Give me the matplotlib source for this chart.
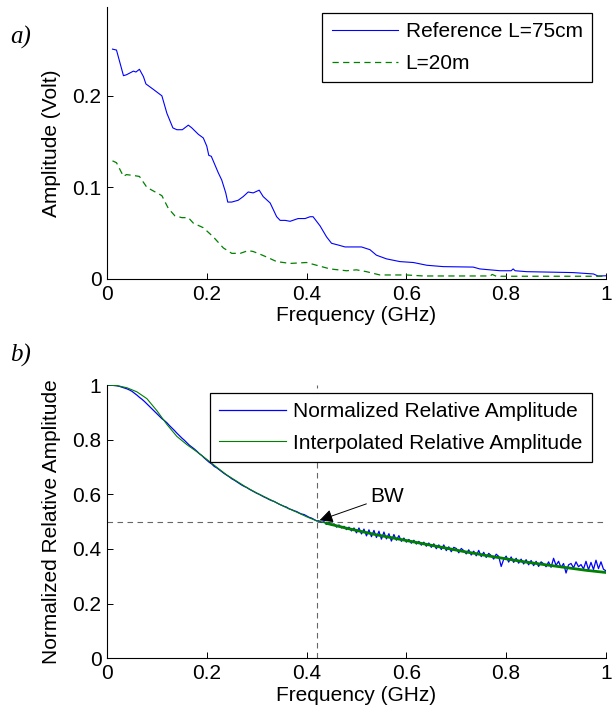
import numpy as np
import matplotlib
matplotlib.use('Agg')
import matplotlib.pyplot as plt

plt.rcParams['font.family'] = ['Liberation Sans', 'DejaVu Sans']
plt.rcParams['font.size'] = 15

# ---- a) 振幅 (Volt)
f_ref = [0.011, 0.019, 0.033, 0.039, 0.053, 0.058, 0.065, 0.073, 0.078, 0.093, 0.110,
         0.120, 0.132, 0.140, 0.151, 0.163, 0.170, 0.183, 0.193, 0.200, 0.204, 0.209, 0.223,
         0.230, 0.238, 0.242, 0.250, 0.263, 0.273, 0.283, 0.293, 0.305, 0.313, 0.327, 0.340,
         0.347, 0.357, 0.367, 0.383, 0.397, 0.407, 0.413, 0.427, 0.440, 0.450, 0.464, 0.477,
         0.510, 0.527, 0.540, 0.560, 0.587, 0.614, 0.641, 0.674, 0.734, 0.747, 0.788, 0.810,
         0.814, 0.818, 0.841, 0.934, 0.975, 0.984, 1.0]
amp_ref = [0.251, 0.250, 0.222, 0.223, 0.227, 0.226, 0.229, 0.221, 0.213, 0.207, 0.200,
           0.181, 0.165, 0.163, 0.163, 0.168, 0.165, 0.158, 0.154, 0.145, 0.135, 0.134, 0.116,
           0.108, 0.094, 0.084, 0.084, 0.086, 0.090, 0.095, 0.094, 0.097, 0.090, 0.083, 0.068,
           0.064, 0.064, 0.063, 0.066, 0.066, 0.068, 0.068, 0.058, 0.046, 0.039, 0.037, 0.035,
           0.035, 0.032, 0.026, 0.022, 0.019, 0.018, 0.015, 0.0135, 0.013, 0.011, 0.009, 0.009,
           0.011, 0.009, 0.008, 0.007, 0.0055, 0.0033, 0.0035]

f_20m = [0.011, 0.019, 0.033, 0.039, 0.053, 0.065, 0.080, 0.100, 0.110, 0.123, 0.136,
         0.150, 0.163, 0.173, 0.193, 0.213, 0.233, 0.250, 0.267, 0.283, 0.293, 0.307, 0.320,
         0.340, 0.367, 0.400, 0.420, 0.447, 0.480, 0.500, 0.520, 0.547, 0.600, 0.634, 0.768,
         0.772, 0.780, 1.0]
amp_20m = [0.129, 0.127, 0.112, 0.114, 0.113, 0.112, 0.100, 0.094, 0.091, 0.077, 0.069,
           0.067, 0.067, 0.061, 0.056, 0.046, 0.034, 0.028, 0.028, 0.031, 0.030, 0.027, 0.024,
           0.019, 0.017, 0.018, 0.015, 0.011, 0.009, 0.010, 0.008, 0.0044, 0.0044, 0.0033, 0.0033,
           0.005, 0.003, 0.003]

# ---- b) 归一化相对振幅, 步长 0.005
f_norm = np.linspace(0, 1, 201)
# 0 ~ 0.42
amp_norm_low = [
    1.000, 1.000, 0.999, 0.998, 0.997, 0.995, 0.992, 0.989, 0.986, 0.982,
    0.977, 0.970, 0.963, 0.955, 0.948, 0.940, 0.931, 0.922, 0.913, 0.904,
    0.895, 0.886, 0.877, 0.870, 0.862, 0.852, 0.843, 0.834, 0.824, 0.815,
    0.806, 0.798, 0.789, 0.780, 0.773, 0.766, 0.758, 0.749, 0.742, 0.733,
    0.725, 0.717, 0.711, 0.702, 0.697, 0.690, 0.683, 0.676, 0.670, 0.664,
    0.657, 0.652, 0.646, 0.640, 0.634, 0.629, 0.625, 0.619, 0.614, 0.609,
    0.604, 0.600, 0.595, 0.590, 0.586, 0.581, 0.577, 0.574, 0.569, 0.564,
    0.560, 0.556, 0.553, 0.547, 0.544, 0.540, 0.537, 0.532, 0.528, 0.526,
    0.521, 0.516, 0.513, 0.508, 0.503]
# 0.425 ~ 1.0
amp_norm_high = [
    0.503, 0.497, 0.500, 0.490, 0.496, 0.487, 0.492, 0.480, 0.488, 0.477,
    0.483, 0.471, 0.480, 0.466, 0.477, 0.459, 0.477, 0.455, 0.473, 0.448,
    0.470, 0.445, 0.468, 0.442, 0.465, 0.436, 0.462, 0.437, 0.456, 0.429,
    0.453, 0.432, 0.449, 0.428, 0.440, 0.425, 0.435, 0.421, 0.432, 0.418,
    0.428, 0.414, 0.425, 0.410, 0.422, 0.406, 0.419, 0.401, 0.415, 0.398,
    0.415, 0.394, 0.408, 0.390, 0.406, 0.402, 0.386, 0.402, 0.394, 0.382,
    0.397, 0.378, 0.392, 0.375, 0.395, 0.372, 0.388, 0.369, 0.384, 0.376,
    0.363, 0.381, 0.373, 0.336, 0.362, 0.374, 0.352, 0.371, 0.351, 0.366,
    0.348, 0.363, 0.345, 0.361, 0.342, 0.358, 0.339, 0.355, 0.336, 0.353,
    0.346, 0.335, 0.353, 0.333, 0.366, 0.340, 0.355, 0.332, 0.347, 0.312,
    0.342, 0.347, 0.331, 0.353, 0.335, 0.343, 0.327, 0.355, 0.324, 0.351,
    0.325, 0.359, 0.328, 0.353, 0.326, 0.320]
amp_norm = amp_norm_low + amp_norm_high

f_interp = [0.0, 0.02, 0.04, 0.06, 0.08, 0.10, 0.12, 0.14, 0.16, 0.18, 0.20, 0.22, 0.24,
            0.26, 0.28, 0.30, 0.32, 0.34, 0.36, 0.38, 0.40, 0.42, 0.44, 0.46, 0.48, 0.50,
            0.52, 0.54, 0.56, 0.58, 0.60, 0.62, 0.64, 0.66, 0.68, 0.70, 0.72, 0.74, 0.76,
            0.78, 0.80, 0.82, 0.84, 0.86, 0.88, 0.90, 0.92, 0.94, 0.96, 0.98, 1.00]
amp_interp = [1.0, 0.998, 0.990, 0.975, 0.950, 0.906, 0.856, 0.812, 0.782, 0.756, 0.728,
              0.699, 0.671, 0.648, 0.625, 0.605, 0.587, 0.569, 0.551, 0.535, 0.518, 0.503,
              0.494, 0.485, 0.476, 0.468, 0.460, 0.452, 0.445, 0.438, 0.431, 0.424, 0.417,
              0.410, 0.403, 0.396, 0.389, 0.383, 0.376, 0.370, 0.364, 0.358, 0.352, 0.347,
              0.342, 0.337, 0.332, 0.327, 0.322, 0.318, 0.314]

bw = 0.421

fig = plt.figure(figsize=(6.16, 7.15), dpi=100)
ax1 = fig.add_axes([0.1737, 0.6098, 0.810, 0.3804])
ax2 = fig.add_axes([0.1737, 0.0793, 0.810, 0.3822])

for ax in (ax1, ax2):
    ax.spines['top'].set_visible(False)
    ax.spines['right'].set_visible(False)
    ax.tick_params(direction='in', length=4, width=0.7, pad=4)
    ax.set_xlim(0, 1)
    ax.set_xticks([0, 0.2, 0.4, 0.6, 0.8, 1])
    ax.set_xticklabels(['0', '0.2', '0.4', '0.6', '0.8', '1'])
    ax.set_xlabel('Frequency (GHz)', labelpad=2)

ax1.plot(f_ref, amp_ref, color='b', lw=0.8, label='Reference L=75cm')
ax1.plot(f_20m, amp_20m, color=(0, 0.5, 0), lw=0.9, dashes=(5, 3.5), label='L=20m')
ax1.set_ylim(0, 0.297)
ax1.set_yticks([0, 0.1, 0.2])
ax1.set_yticklabels(['0', '0.1', '0.2'])
ax1.set_ylabel('Amplitude (Volt)', labelpad=8)
leg1 = ax1.legend(loc='upper right', bbox_to_anchor=(0.972, 0.978), borderaxespad=0,
                  fancybox=False, edgecolor='k', framealpha=1, handlelength=3.2,
                  handletextpad=0.35, labelspacing=0.6, borderpad=0.45)
leg1.get_frame().set_linewidth(0.9)

ax2.plot([0, 1], [0.5, 0.5], color='0.4', lw=0.8, dashes=(5, 4))
ax2.plot([bw, bw], [0, 1], color='0.4', lw=0.8, dashes=(5, 4))
ax2.plot(f_norm, amp_norm, color='b', lw=0.9, label='Normalized Relative Amplitude')
ax2.plot(f_interp, amp_interp, color=(0, 0.5, 0), lw=0.8, label='Interpolated Relative Amplitude')
tail = np.array(f_interp) >= bw
ax2.plot(np.array(f_interp)[tail], np.array(amp_interp)[tail], color=(0, 0.5, 0), lw=2.0)
ax2.set_ylim(0, 1)
ax2.set_yticks([0, 0.2, 0.4, 0.6, 0.8, 1])
ax2.set_yticklabels(['0', '0.2', '0.4', '0.6', '0.8', '1'])
ax2.set_ylabel('Normalized Relative Amplitude', labelpad=8)
leg2 = ax2.legend(loc='upper right', bbox_to_anchor=(0.972, 0.972), borderaxespad=0,
                  fancybox=False, edgecolor='k', framealpha=1, handlelength=3.2,
                  handletextpad=0.35, labelspacing=0.6, borderpad=0.45)
leg2.get_frame().set_linewidth(0.9)

ax2.annotate('BW', xy=(bw + 0.005, 0.505), xytext=(0.528, 0.592), va='center', ha='left',
             arrowprops=dict(arrowstyle='-|>', color='k', lw=0.7, mutation_scale=20,
                             shrinkA=1, shrinkB=0))

fig.text(0.016, 0.948, 'a)', family='Liberation Serif', style='italic', fontsize=18, va='center')
fig.text(0.016, 0.5035, 'b)', family='Liberation Serif', style='italic', fontsize=18, va='center')

fig.savefig('out.png', dpi=100)
